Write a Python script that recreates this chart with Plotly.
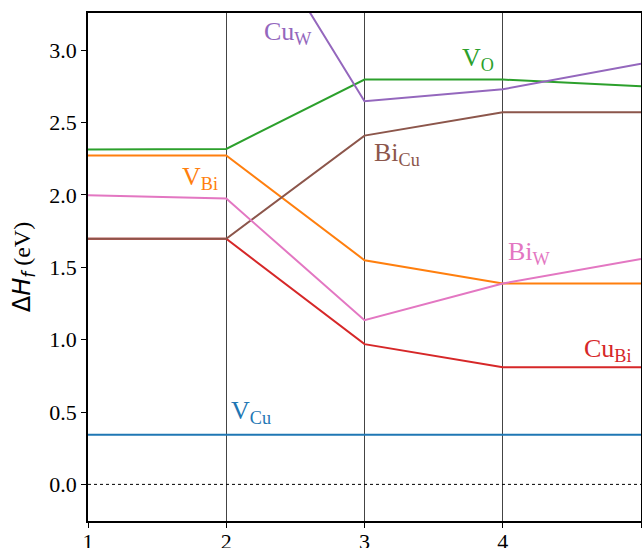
import plotly.graph_objects as go

# positions chimiques (1 à 5) et énergies de formation (eV)
x_points = [1, 2, 3, 4, 5]

v_cu = [0.343, 0.343, 0.343, 0.343, 0.343]
cu_bi = [1.697, 1.697, 0.969, 0.81, 0.81]
bi_cu = [1.697, 1.697, 2.41, 2.571, 2.571]
bi_w = [1.998, 1.975, 1.134, 1.388, 1.557]
v_bi = [2.272, 2.272, 1.549, 1.388, 1.388]
v_o = [2.313, 2.318, 2.797, 2.797, 2.751]
cu_w = [4.2, 4.2, 2.647, 2.73, 2.907]

series = [
    ("V<sub>Cu</sub>", v_cu, "#1f77b4"),
    ("V<sub>Bi</sub>", v_bi, "#ff7f0e"),
    ("V<sub>O</sub>", v_o, "#2ca02c"),
    ("Cu<sub>Bi</sub>", cu_bi, "#d62728"),
    ("Cu<sub>W</sub>", cu_w, "#9467bd"),
    ("Bi<sub>Cu</sub>", bi_cu, "#8c564b"),
    ("Bi<sub>W</sub>", bi_w, "#e377c2"),
]

# étiquettes : (texte, x, y)
labels = [
    ("Cu<sub>W</sub>", 2.26, 3.12),
    ("V<sub>O</sub>", 3.69, 2.94),
    ("Bi<sub>Cu</sub>", 3.055, 2.28),
    ("V<sub>Bi</sub>", 1.665, 2.12),
    ("Bi<sub>W</sub>", 4.025, 1.60),
    ("Cu<sub>Bi</sub>", 4.575, 0.93),
    ("V<sub>Cu</sub>", 2.02, 0.50),
]

fig = go.Figure()

for name, vals, color in series:
    fig.add_trace(go.Scatter(
        x=x_points, y=vals, mode='lines', name=name,
        line=dict(color=color, width=2),
        showlegend=False, hoverinfo='skip'
    ))

# ligne pointillée à zéro
fig.add_shape(type='line', xref='paper', x0=0, x1=1, yref='y', y0=0, y1=0,
              line=dict(color='black', width=1, dash='dot'))

for text, lx, ly in labels:
    color = next(c for n, _, c in series if n == text)
    fig.add_annotation(
        x=lx, y=ly, text=text, showarrow=False,
        xanchor='left', yanchor='middle',
        font=dict(family='Liberation Serif', size=26, color=color)
    )

fig.update_layout(
    width=642, height=548,
    margin=dict(l=88, r=1, t=13, b=27),
    paper_bgcolor='white', plot_bgcolor='white',
    font=dict(family='Liberation Serif', size=22, color='black'),
    xaxis=dict(
        range=[1, 5], tickvals=x_points, ticks='outside', ticklen=5,
        tickcolor='black', showline=True, linecolor='black', linewidth=1.5,
        mirror=True, showgrid=True, gridcolor='#444', gridwidth=1,
        zeroline=False, tickfont=dict(size=22), automargin=False,
        ticklabelstandoff=-5
    ),
    yaxis=dict(
        range=[-0.253, 3.257], tickvals=[0, 0.5, 1, 1.5, 2, 2.5, 3],
        ticktext=['0.0', '0.5', '1.0', '1.5', '2.0', '2.5', '3.0'],
        ticks='outside', ticklen=5, tickcolor='black', automargin=False,
        showline=True, linecolor='black', linewidth=1.5, mirror=True,
        showgrid=False, zeroline=False, tickfont=dict(size=22),
        title=dict(
            text='<span style="font-family:DejaVu Sans">Δ<i>H</i><sub><i>f</i></sub></span> (eV)',
            font=dict(size=24), standoff=12
        )
    ),
)

# la page par défaut a une marge de 8 px autour du graphique
fig.write_html("out.html", config={'displayModeBar': False},
               post_script="document.body.style.margin='0';")
